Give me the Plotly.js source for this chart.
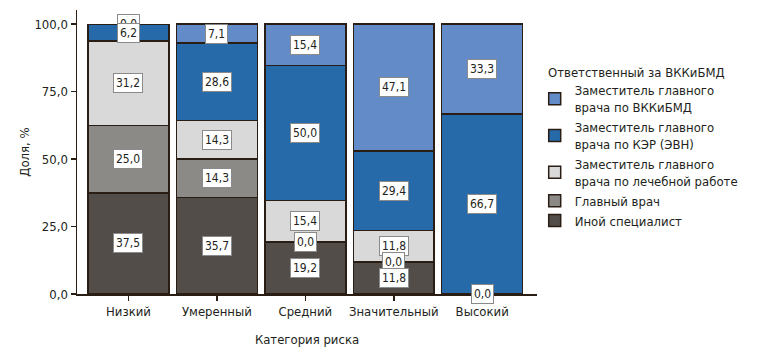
<!DOCTYPE html>
<html>
<head>
<meta charset="utf-8">
<script src="https://cdn.plot.ly/plotly-3.0.1.min.js"></script>
<style>html,body{margin:0;padding:0;background:#fff;}#chart{width:758px;height:362px;}</style>
</head>
<body>
<div id="chart"></div>
<script>
const categories = ["Низкий", "Умеренный", "Средний", "Значительный", "Высокий"];
const seriesNames = [
  "Иной специалист",
  "Главный врач",
  "Заместитель главного<br>врача по лечебной работе",
  "Заместитель главного<br>врача по КЭР (ЭВН)",
  "Заместитель главного<br>врача по ВККиБМД"
];
const legendTitle = "Ответственный за ВККиБМД";
const inoy      = [37.5, 35.7, 19.2, 11.8, 0.0];
const glavny    = [25.0, 14.3, 0.0, 0.0, null];
const lechebn   = [31.2, 14.3, 15.4, 11.8, null];
const ker       = [6.2, 28.6, 50.0, 29.4, 66.7];
const vkk       = [0.0, 7.1, 15.4, 47.1, 33.3];
const seriesValues = [inoy, glavny, lechebn, ker, vkk];
const colors = ["#534d4a", "#8c8a87", "#d9d9d9", "#276aaa", "#628bc8"];

const FONT = "'Liberation Sans Narrow', 'DejaVu Sans Condensed', 'Roboto Condensed', sans-serif";
const TXT = "#231f20";

const traces = seriesValues.map((vals, i) => ({
  type: "bar",
  name: seriesNames[i],
  x: categories,
  y: vals,
  marker: {color: colors[i], line: {color: "#2a1d14", width: 1.5}},
  hoverinfo: "skip"
}));

// labels: build per category, then draw upper series first so lower labels sit on top
const annotations = [];
categories.forEach((c, ci) => {
  let base = 0;
  const list = [];
  seriesValues.forEach((vals) => {
    const v = vals[ci];
    if (v === null || v === undefined) return;
    list.push({
      x: c, y: base + v / 2, xref: "x", yref: "y",
      text: v.toFixed(1).replace(".", ","),
      showarrow: false,
      bgcolor: "#ffffff", bordercolor: "#8a8a8a", borderwidth: 1, borderpad: 2,
      font: {family: FONT, size: 12, color: TXT}
    });
    base += v;
  });
  list.reverse().forEach(a => annotations.push(a));
});

annotations.push({
  xref: "paper", yref: "paper", x: 1.02, y: 0.78, xanchor: "left", yanchor: "middle",
  text: legendTitle, showarrow: false,
  font: {family: FONT, size: 13, color: TXT}
});

const layout = {
  width: 758, height: 362,
  margin: {l: 77, r: 221, t: 10, b: 68},
  paper_bgcolor: "#fff", plot_bgcolor: "#fff",
  barmode: "stack", bargap: 0.085,
  separators: ", ",
  font: {family: FONT, size: 13, color: TXT},
  xaxis: {
    range: [-0.582, 4.62], showgrid: false, zeroline: false,
    showline: true, linecolor: "#2a1d14", linewidth: 1.5,
    ticks: "outside", ticklen: 5, tickcolor: "#2a1d14", tickwidth: 1.5,
    tickfont: {family: FONT, size: 13, color: TXT},
    title: {text: "Категория риска", font: {family: FONT, size: 13, color: TXT}, standoff: 17}
  },
  yaxis: {
    range: [0, 105.2], showgrid: false, zeroline: false,
    showline: true, linecolor: "#2a1d14", linewidth: 1.5,
    ticks: "outside", ticklen: 5, tickcolor: "#2a1d14", tickwidth: 1.5,
    tickvals: [0, 25, 50, 75, 100], tickformat: ".1f",
    tickfont: {family: FONT, size: 13, color: TXT},
    title: {text: "Доля, %", font: {family: FONT, size: 13, color: TXT}, standoff: 2}
  },
  legend: {
    x: 0.995, xanchor: "left", y: 0.77, yanchor: "top",
    font: {family: FONT, size: 13, color: TXT},
    traceorder: "reversed", tracegroupgap: 3, itemwidth: 30
  },
  annotations: annotations
};

Plotly.newPlot("chart", traces, layout, {displayModeBar: false, staticPlot: true});
</script>
</body>
</html>
